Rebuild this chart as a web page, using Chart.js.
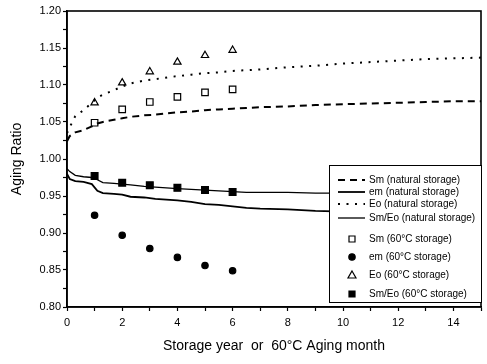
<!DOCTYPE html>
<html>
<head>
<meta charset="utf-8">
<script src="https://cdn.jsdelivr.net/npm/chart.js@4.4.1/dist/chart.umd.min.js"></script>
<style>
  html, body { margin: 0; padding: 0; background: #fff; }
  #wrap { width: 487px; height: 364px; }
</style>
</head>
<body>
<div id="wrap"><canvas id="myChart" width="487" height="364"></canvas></div>
<script>
// natural storage curves (years)
const natYears = [0, 0.1, 0.3, 0.6, 0.9, 1.1, 1.3, 1.7, 2.0, 2.3, 2.8, 3.2, 4.0, 4.5, 5.0, 5.5, 6.0, 6.5, 7, 8, 9, 10, 11, 12, 13, 14, 15];
const smNatural = [1.024, 1.031, 1.036, 1.039, 1.044, 1.048, 1.050, 1.053, 1.055, 1.057, 1.059, 1.060, 1.063, 1.064, 1.066, 1.067, 1.068, 1.069, 1.070, 1.071, 1.073, 1.074, 1.075, 1.076, 1.077, 1.078, 1.078];
const emNatural = [0.980, 0.973, 0.970, 0.969, 0.966, 0.957, 0.954, 0.953, 0.952, 0.949, 0.948, 0.946, 0.944, 0.942, 0.939, 0.938, 0.936, 0.934, 0.933, 0.932, 0.930, 0.929, 0.928, 0.928, 0.927, 0.927, 0.927];
const eoNatural = [1.035, 1.043, 1.058, 1.066, 1.076, 1.083, 1.087, 1.093, 1.098, 1.102, 1.106, 1.108, 1.112, 1.114, 1.116, 1.117, 1.119, 1.120, 1.121, 1.124, 1.126, 1.129, 1.131, 1.133, 1.135, 1.136, 1.137];
const smEoNatural = [0.987, 0.983, 0.978, 0.976, 0.975, 0.972, 0.968, 0.967, 0.966, 0.965, 0.963, 0.962, 0.960, 0.959, 0.958, 0.957, 0.956, 0.955, 0.955, 0.955, 0.954, 0.954, 0.954, 0.953, 0.953, 0.953, 0.953];

// 60°C storage (months)
const agingMonths = [1, 2, 3, 4, 5, 6];
const sm60 = [1.049, 1.067, 1.077, 1.084, 1.090, 1.094];
const em60 = [0.924, 0.897, 0.879, 0.867, 0.856, 0.849];
const eo60 = [1.076, 1.103, 1.118, 1.131, 1.140, 1.147];
const smEo60 = [0.977, 0.968, 0.9645, 0.961, 0.958, 0.9555];

const xTicks = [0, 2, 4, 6, 8, 10, 12, 14];
const yTicks = ['0.80', '0.85', '0.90', '0.95', '1.00', '1.05', '1.10', '1.15', '1.20'];

function pts(xs, ys) {
  return xs.map((x, i) => ({ x: x, y: ys[i] }));
}

const lineSet = (label, ys, width, dash) => ({
  label: label,
  data: pts(natYears, ys),
  showLine: true,
  borderColor: '#000',
  borderWidth: width,
  borderDash: dash,
  borderCapStyle: 'butt',
  pointRadius: 0,
  tension: 0,
  fill: false
});

const markSet = (label, ys, style, radius, filled) => ({
  label: label,
  data: pts(agingMonths, ys),
  showLine: false,
  pointStyle: style,
  pointRadius: radius,
  pointBorderWidth: 1.2,
  pointBorderColor: '#000',
  pointBackgroundColor: filled ? '#000' : '#fff'
});

const datasets = [
  lineSet('Sm (natural storage)', smNatural, 2, [7, 5]),
  lineSet('em (natural storage)', emNatural, 1.8, []),
  lineSet('Eo (natural storage)', eoNatural, 2, [2, 6.5]),
  lineSet('Sm/Eo (natural storage)', smEoNatural, 1.3, []),
  markSet('Sm (60°C storage)', sm60, 'rect', 4.6, false),
  markSet('em (60°C storage)', em60, 'circle', 3.2, true),
  markSet('Eo (60°C storage)', eo60, 'triangle', 4.2, false),
  markSet('Sm/Eo (60°C storage)', smEo60, 'rect', 4.8, true)
];

// frame + legend box inside the plot
const framePlugin = {
  id: 'frame',
  afterDraw(chart) {
    const ctx = chart.ctx;
    const a = chart.chartArea;
    ctx.save();
    ctx.strokeStyle = '#000';
    ctx.lineWidth = 1.6;
    ctx.strokeRect(a.left, a.top, a.right - a.left, a.bottom - a.top);

    // legend
    const bx = 329, by = 165, bw = 152, bh = 137;
    ctx.fillStyle = '#fff';
    ctx.fillRect(bx, by, bw, bh);
    ctx.lineWidth = 1;
    ctx.strokeRect(bx + 0.5, by + 0.5, bw, bh);
    ctx.font = '10px Arial, "Liberation Sans", sans-serif';
    ctx.textBaseline = 'middle';
    const rows = [180, 192, 204, 218, 239, 257, 275, 294];
    chart.data.datasets.forEach((ds, i) => {
      const y = rows[i];
      ctx.fillStyle = '#000';
      ctx.strokeStyle = '#000';
      if (i < 4) {
        ctx.beginPath();
        ctx.lineWidth = ds.borderWidth;
        ctx.setLineDash(ds.borderDash);
        ctx.moveTo(338, y);
        ctx.lineTo(365, y);
        ctx.stroke();
        ctx.setLineDash([]);
        ctx.fillText(ds.label, 369, y);
      } else {
        const cx = 352;
        ctx.lineWidth = 1.2;
        ctx.fillStyle = ds.pointBackgroundColor;
        ctx.beginPath();
        if (ds.pointStyle === 'rect') {
          ctx.rect(cx - 3, y - 3, 6, 6);
        } else if (ds.pointStyle === 'circle') {
          ctx.arc(cx, y, 3.2, 0, Math.PI * 2);
        } else {
          ctx.moveTo(cx, y - 4);
          ctx.lineTo(cx + 4, y + 3);
          ctx.lineTo(cx - 4, y + 3);
          ctx.closePath();
        }
        ctx.fill();
        ctx.stroke();
        ctx.fillStyle = '#000';
        ctx.fillText(ds.label, 369, y);
      }
    });
    ctx.restore();
  }
};

const tickFont = { family: 'Arial, "Liberation Sans", sans-serif', size: 11 };
const titleFont = { family: 'Arial, "Liberation Sans", sans-serif', size: 14 };

new Chart(document.getElementById('myChart'), {
  type: 'scatter',
  data: { datasets: datasets },
  options: {
    responsive: false,
    animation: false,
    layout: { padding: { top: 11, right: 1, left: 0, bottom: 0 } },
    plugins: { legend: { display: false }, tooltip: { enabled: false } },
    scales: {
      x: {
        type: 'linear',
        min: 0,
        max: 15,
        afterFit(scale) { scale.height = 57; },
        ticks: {
          stepSize: 1,
          color: '#000',
          font: tickFont,
          padding: 5,
          maxRotation: 0,
          autoSkip: false,
          callback: (v) => xTicks.includes(v) ? String(v) : ''
        },
        grid: { drawOnChartArea: false, color: '#000', tickLength: 4, tickWidth: 1.2 },
        border: { color: '#000', width: 1.6 },
        title: {
          display: true,
          text: 'Storage year  or  60°C Aging month',
          color: '#000',
          font: titleFont,
          padding: { top: 0, bottom: 9 }
        }
      },
      y: {
        type: 'linear',
        min: 0.8,
        max: 1.2,
        afterFit(scale) { scale.width = 67; },
        ticks: {
          stepSize: 0.025,
          color: '#000',
          font: tickFont,
          padding: 2,
          autoSkip: false,
          callback: (v, i) => i % 2 === 0 ? yTicks[i / 2] : ''
        },
        grid: { drawOnChartArea: false, color: '#000', tickLength: 4, tickWidth: 1.2 },
        border: { color: '#000', width: 1.6 },
        title: {
          display: true,
          text: 'Aging Ratio',
          color: '#000',
          font: titleFont,
          padding: { top: 9, bottom: 0 }
        }
      }
    }
  },
  plugins: [framePlugin]
});
</script>
</body>
</html>
